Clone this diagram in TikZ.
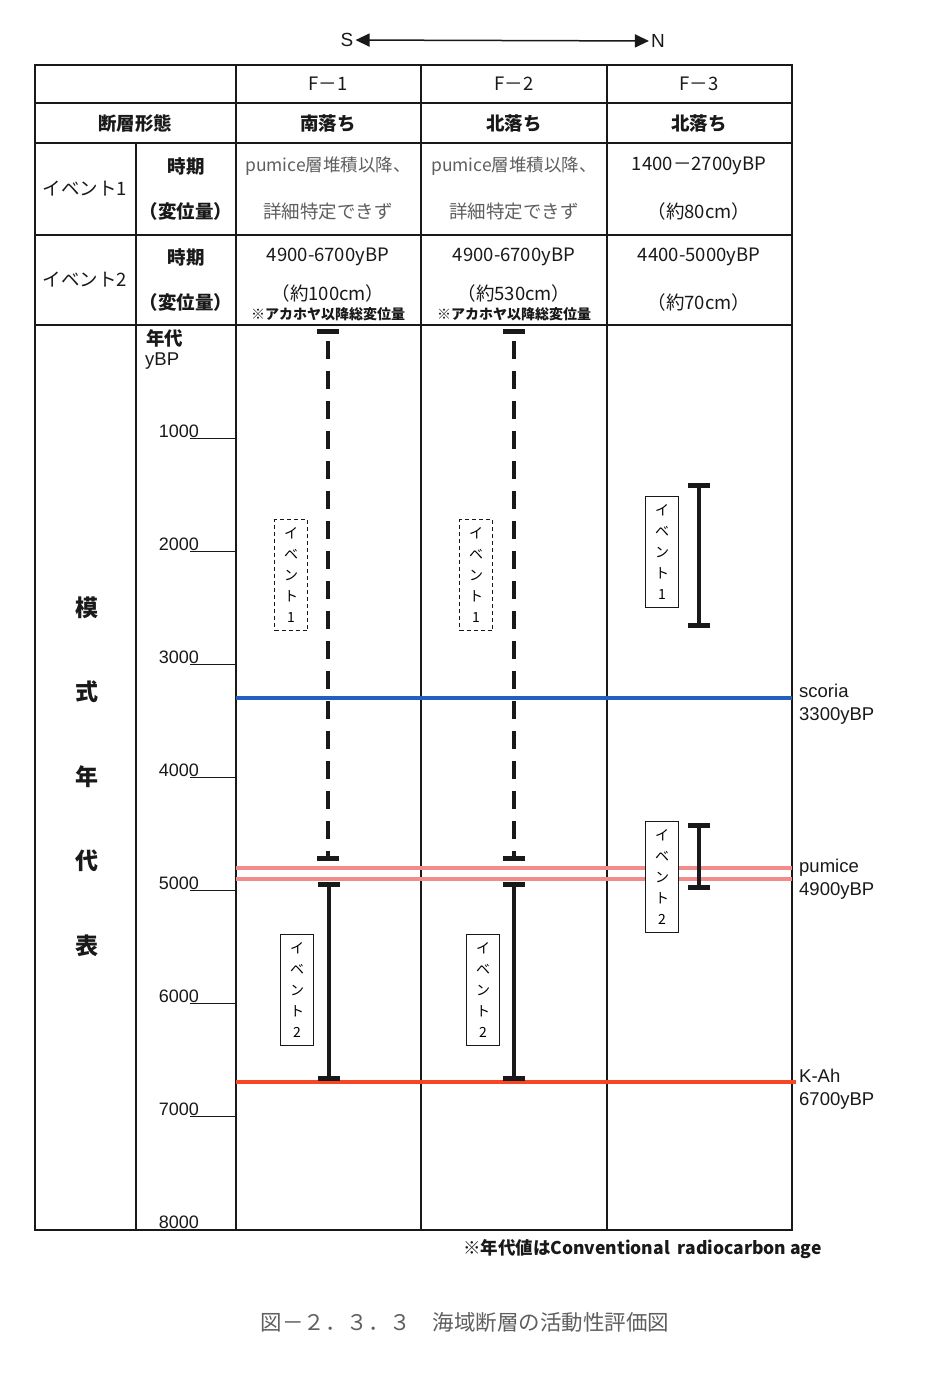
\documentclass[tikz,border=0pt]{standalone}
\usepackage{fontspec}
\setmainfont{Liberation Sans}
\newfontfamily\jp{Noto Sans CJK JP}
\usetikzlibrary{arrows.meta}
\definecolor{Ink}{RGB}{25,25,25}
\definecolor{Muted}{RGB}{95,95,95}
\definecolor{Scoria}{RGB}{35,95,190}
\definecolor{Pumice}{RGB}{242,140,140}
\definecolor{KAh}{RGB}{248,70,35}

\begin{document}
\begin{tikzpicture}[x=1pt,y=-1pt,
    grid/.style={draw=Ink,line width=1.4pt},
    tick/.style={draw=Ink,line width=1pt},
    cell/.style={text=Ink,font=\jp\fontsize{18.5}{20}\selectfont},
    cellb/.style={text=Ink,font=\jp\bfseries\fontsize{18.5}{20}\selectfont},
    note/.style={text=Ink,font=\jp\bfseries\fontsize{14}{15}\selectfont},
    yearlbl/.style={text=Ink,font=\fontsize{18}{20}\selectfont,anchor=base east,inner sep=0pt},
    tephra/.style={text=Ink,font=\fontsize{18.5}{23}\selectfont,align=left,anchor=west,inner sep=0pt},
    evbox/.style={draw=Ink,fill=white,line width=1pt,minimum width=33pt,minimum height=111pt,inner sep=0pt,align=center,font=\jp\fontsize{14}{21}\selectfont},
    evboxdash/.style={evbox,dash pattern=on 4pt off 3pt},
    bar/.style={draw=Ink,line width=4pt,{Bar[width=22pt,line width=5pt]}-{Bar[width=22pt,line width=5pt]}},
    dashbar/.style={bar,dash pattern=on 18pt off 12pt,dash phase=-8pt},
    layer/.style={line width=4pt}
]

\useasboundingbox (0,0) rectangle (947,1379);
\fill[white] (0,0) rectangle (947,1379);

% Direction arrow
\node[font=\fontsize{19}{20}\selectfont,text=Ink,inner sep=2pt] (south) at (347,40) {S};
\node[font=\fontsize{19}{20}\selectfont,text=Ink,inner sep=2pt] (north) at (658,41) {N};
\draw[Ink,line width=1.5pt,{Triangle[length=14pt,width=13pt]}-{Triangle[length=14pt,width=13pt]}] (south) -- (north);

% Table frame
\draw[grid] (35,65) rectangle (792,1230);
\draw[grid] (35,103) -- (792,103);
\draw[grid] (35,143) -- (792,143);
\draw[grid] (35,235) -- (792,235);
\draw[grid] (35,325) -- (792,325);
\draw[grid] (136,143) -- (136,1230);
\draw[grid] (236,65) -- (236,1230);
\draw[grid] (421,65) -- (421,1230);
\draw[grid] (607,65) -- (607,1230);

% Header rows
\node[cell] (hdr-f1) at (328,84) {F－1};
\node[cell] (hdr-f2) at (514,84) {F－2};
\node[cell] (hdr-f3) at (699,84) {F－3};
\node[cellb] (type-label) at (135,123) {断層形態};
\node[cellb] (type-f1) at (328,123) {南落ち};
\node[cellb] (type-f2) at (514,123) {北落ち};
\node[cellb] (type-f3) at (699,123) {北落ち};

% Event 1 row
\node[cell] (ev1-label) at (85,189) {イベント1};
\node[cellb] (ev1-time) at (186,166) {時期};
\node[cellb] (ev1-disp) at (186,211) {（変位量）};
\node[cell,text=Muted,font=\jp\fontsize{17.5}{20}\selectfont] (ev1-f1-time) at (328,166) {pumice層堆積以降、};
\node[cell,text=Muted] (ev1-f1-disp) at (328,211) {詳細特定できず};
\node[cell,text=Muted,font=\jp\fontsize{17.5}{20}\selectfont] (ev1-f2-time) at (514,166) {pumice層堆積以降、};
\node[cell,text=Muted] (ev1-f2-disp) at (514,211) {詳細特定できず};
\node[cell] (ev1-f3-time) at (699,166) {1400－2700yBP};
\node[cell] (ev1-f3-disp) at (699,211) {（約80cm）};

% Event 2 row
\node[cell] (ev2-label) at (85,280) {イベント2};
\node[cellb] (ev2-time) at (186,257) {時期};
\node[cellb] (ev2-disp) at (186,302) {（変位量）};
\node[cell] (ev2-f1-time) at (328,257) {4900-6700yBP};
\node[cell] (ev2-f1-disp) at (328,293) {（約100cm）};
\node[note] (ev2-f1-note) at (328,314) {※アカホヤ以降総変位量};
\node[cell] (ev2-f2-time) at (514,257) {4900-6700yBP};
\node[cell] (ev2-f2-disp) at (514,293) {（約530cm）};
\node[note] (ev2-f2-note) at (514,314) {※アカホヤ以降総変位量};
\node[cell] (ev2-f3-time) at (699,257) {4400-5000yBP};
\node[cell] (ev2-f3-disp) at (699,302) {（約70cm）};

% Time scale
\node[text=Ink,font=\jp\bfseries\fontsize{18.5}{20}\selectfont,anchor=west,inner sep=0pt] (age-head) at (146,338) {年代};
\node[text=Ink,font=\fontsize{18.5}{20}\selectfont,anchor=west,inner sep=0pt] (age-unit) at (145,361) {yBP};
\foreach \k in {1,...,7} {
  \pgfmathsetmacro{\yy}{325+113*\k}
  \draw[tick] (190,\yy) -- (236,\yy);
  \node[yearlbl] (yr\k) at (199,\yy-1) {\k000};
}
\node[yearlbl] (yr8) at (199,1228) {8000};

\foreach \ch/\yy [count=\i] in {模/608,式/692,年/777,代/861,表/946}
  \node[text=Ink,font=\jp\bfseries\fontsize{23}{24}\selectfont] (title\i) at (87,\yy) {\ch};

% Tephra layers
\draw[layer,Scoria] (236,698) -- (792,698);
\draw[layer,Pumice] (236,868) -- (792,868);
\draw[layer,Pumice] (236,879) -- (792,879);
\draw[layer,KAh] (236,1082) -- (796,1082);
\node[tephra] (scoria) at (799,704) {scoria\\3300yBP};
\node[tephra] (pumice) at (799,879) {pumice\\4900yBP};
\node[tephra] (kah) at (799,1089) {K-Ah\\6700yBP};

% Event bars
\coordinate (f1-e1-top) at (328,329);
\coordinate (f1-e1-bot) at (328,861);
\coordinate (f1-e2-top) at (329,882);
\coordinate (f1-e2-bot) at (329,1081);
\coordinate (f2-e1-top) at (514,329);
\coordinate (f2-e1-bot) at (514,861);
\coordinate (f2-e2-top) at (514,882);
\coordinate (f2-e2-bot) at (514,1081);
\coordinate (f3-e1-top) at (699,483);
\coordinate (f3-e1-bot) at (699,628);
\coordinate (f3-e2-top) at (699,823);
\coordinate (f3-e2-bot) at (699,890);

\draw[dashbar] (f1-e1-top) -- (f1-e1-bot);
\draw[bar] (f1-e2-top) -- (f1-e2-bot);
\draw[dashbar] (f2-e1-top) -- (f2-e1-bot);
\draw[bar] (f2-e2-top) -- (f2-e2-bot);
\draw[bar] (f3-e1-top) -- (f3-e1-bot);
\draw[bar] (f3-e2-top) -- (f3-e2-bot);

% Event labels
\node[evboxdash] (f1-e1-box) at (291,575) {イ\\ベ\\ン\\ト\\1};
\node[evboxdash] (f2-e1-box) at (476,575) {イ\\ベ\\ン\\ト\\1};
\node[evbox] (f3-e1-box) at (662,552) {イ\\ベ\\ン\\ト\\1};
\node[evbox] (f1-e2-box) at (297,990) {イ\\ベ\\ン\\ト\\2};
\node[evbox] (f2-e2-box) at (483,990) {イ\\ベ\\ン\\ト\\2};
\node[evbox] (f3-e2-box) at (662,877) {イ\\ベ\\ン\\ト\\2};

% Notes
\node[text=Ink,font=\jp\bfseries\fontsize{17.5}{20}\selectfont,anchor=east,inner sep=0pt] (age-note) at (822,1249) {※年代値はConventional\ \ radiocarbon age};
\node[text=Muted,font=\jp\fontsize{21.5}{24}\selectfont] (caption) at (465,1322) {図－２．３．３　海域断層の活動性評価図};

\end{tikzpicture}
\end{document}
